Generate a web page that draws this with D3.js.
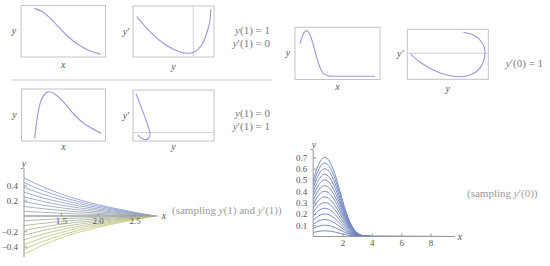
<!DOCTYPE html>
<html><head><meta charset="utf-8">
<script src="https://cdn.jsdelivr.net/npm/d3@7"></script>
<style>body{margin:0;background:#fff}svg{display:block}</style>
</head><body>
<script>
// ---------- DATA ----------
// Panel 1: y vs x  (y(1)=1, y'(1)=0)
const p1X = [1, 1.25, 1.5, 1.75, 2, 2.25, 2.5, 2.75, 3];
const p1Y = [1.0, 0.93, 0.78, 0.60, 0.42, 0.28, 0.17, 0.09, 0.04];
// Panel 2: phase y' vs y (normalised units)
const p2Y  = [0.046, 0.21, 0.374, 0.54, 0.663, 0.765, 0.848, 0.91, 0.951, 0.96];
const p2YP = [0.79, 0.496, 0.269, 0.124, 0.073, 0.104, 0.235, 0.465, 0.725, 0.935];
const p2RefY = 0.744;
// Panel 3: y vs x  (y(1)=0, y'(1)=1)
const p3X = [1.0, 1.10, 1.20, 1.35, 1.45, 1.61, 1.91, 2.21, 2.52, 3.02];
const p3Y = [0, 0.483, 0.738, 0.879, 0.898, 0.854, 0.675, 0.45, 0.277, 0.098];
// Panel 4: phase y' vs y (normalised units)
const p4Y  = [0.037, 0.086, 0.148, 0.189, 0.21, 0.198, 0.167, 0.123, 0.086, 0.062];
const p4YP = [0.929, 0.725, 0.467, 0.275, 0.148, 0.067, 0.029, 0.038, 0.077, 0.115];
const p4RefYP = 0.167;
// Panel 6: phase y' vs y  (y'(0)=1)
const p6Y  = [0.495, 0.589, 0.653, 0.691, 0.700, 0.684, 0.637, 0.558, 0.464, 0.338, 0.211, 0.101, 0.007, 0];
const p6YP = [1.0, 0.871, 0.633, 0.314, 0, -0.40, -0.795, -1.033, -1.114, -1.033, -0.795, -0.476, -0.081, 0];

// Bottom-left family (sampling y(1) and y'(1))
const leftX = [1, 1.25, 1.5, 1.75, 2, 2.25, 2.5, 2.77];
const leftCurves = [
  [0.5, 0.383, 0.288, 0.212, 0.149, 0.096, 0.048, 0],
  [0.4375, 0.335, 0.252, 0.186, 0.130, 0.084, 0.042, 0],
  [0.375, 0.287, 0.216, 0.159, 0.112, 0.072, 0.036, 0],
  [0.3125, 0.239, 0.18, 0.1325, 0.093, 0.060, 0.030, 0],
  [0.25, 0.192, 0.144, 0.106, 0.075, 0.048, 0.024, 0],
  [0.1875, 0.144, 0.108, 0.0795, 0.056, 0.036, 0.018, 0],
  [0.125, 0.096, 0.072, 0.053, 0.037, 0.024, 0.012, 0],
  [0.0625, 0.048, 0.036, 0.0265, 0.019, 0.012, 0.006, 0],
  [0, 0, 0, 0, 0, 0, 0, 0],
  [-0.0625, -0.048, -0.036, -0.0265, -0.019, -0.012, -0.006, 0],
  [-0.125, -0.096, -0.072, -0.053, -0.037, -0.024, -0.012, 0],
  [-0.1875, -0.144, -0.108, -0.0795, -0.056, -0.036, -0.018, 0],
  [-0.25, -0.192, -0.144, -0.106, -0.075, -0.048, -0.024, 0],
  [-0.3125, -0.239, -0.18, -0.1325, -0.093, -0.060, -0.030, 0],
  [-0.375, -0.287, -0.216, -0.159, -0.112, -0.072, -0.036, 0],
  [-0.4375, -0.335, -0.252, -0.186, -0.130, -0.084, -0.042, 0],
  [-0.5, -0.383, -0.288, -0.212, -0.149, -0.096, -0.048, 0]
];
const leftXTicks = [1.5, 2.0, 2.5];
const leftXTickLabels = ["1.5", "2.0", "2.5"];
const leftYTicks = [-0.4, -0.2, 0.2, 0.4];
const leftYTickLabels = ["\u22120.4", "\u22120.2", "0.2", "0.4"];

// Bottom-right family (sampling y'(0)); top curve also used in panel 5
const rightX = [0, 0.25, 0.5, 0.75, 1, 1.25, 1.5, 1.75, 2, 2.25, 2.5, 2.75, 3, 3.5, 4, 9.3];
const rightCurves = [
  [0.036,0.043,0.048,0.05,0.049,0.045,0.039,0.031,0.023,0.015,0.009,0.005,0.002,0,0,0],
  [0.071,0.086,0.096,0.10,0.098,0.09,0.078,0.062,0.046,0.031,0.019,0.01,0.005,0.001,0,0],
  [0.107,0.129,0.144,0.15,0.147,0.135,0.117,0.093,0.069,0.046,0.028,0.015,0.007,0.001,0,0],
  [0.143,0.171,0.191,0.20,0.196,0.18,0.156,0.124,0.091,0.061,0.037,0.02,0.009,0.001,0,0],
  [0.179,0.214,0.239,0.25,0.245,0.225,0.195,0.155,0.114,0.077,0.046,0.025,0.011,0.002,0,0],
  [0.214,0.257,0.287,0.30,0.294,0.27,0.234,0.186,0.137,0.092,0.056,0.03,0.014,0.002,0,0],
  [0.25,0.30,0.335,0.35,0.343,0.315,0.273,0.218,0.16,0.108,0.065,0.035,0.016,0.003,0,0],
  [0.286,0.343,0.383,0.40,0.391,0.36,0.311,0.249,0.183,0.123,0.074,0.04,0.018,0.003,0,0],
  [0.321,0.386,0.431,0.45,0.44,0.405,0.35,0.28,0.206,0.138,0.084,0.045,0.021,0.003,0.001,0],
  [0.357,0.429,0.479,0.50,0.489,0.45,0.389,0.311,0.229,0.154,0.093,0.05,0.023,0.004,0.001,0],
  [0.393,0.471,0.526,0.55,0.538,0.495,0.428,0.342,0.251,0.169,0.102,0.055,0.025,0.004,0.001,0],
  [0.429,0.514,0.574,0.60,0.587,0.54,0.467,0.373,0.274,0.184,0.111,0.06,0.027,0.004,0.001,0],
  [0.464,0.557,0.622,0.65,0.636,0.585,0.506,0.404,0.297,0.2,0.121,0.065,0.03,0.005,0.001,0],
  [0.50,0.60,0.67,0.70,0.685,0.63,0.545,0.435,0.32,0.215,0.13,0.07,0.032,0.005,0.001,0]
];
const rightXTicks = [2, 4, 6, 8];
const rightYTicks = [0.1, 0.2, 0.3, 0.4, 0.5, 0.6, 0.7];

// ---------- DRAW ----------
const W = 550, H = 266;
const svg = d3.select("body").append("svg").attr("width", W).attr("height", H);
const SERIF = "'Liberation Serif','DejaVu Serif',serif";
const miniColor = "#9898de";
const boxColor = "#c4c4c4";

function miniPanel(o) {
  const sx = d3.scaleLinear().domain(o.xDomain).range([o.box[0], o.box[1]]);
  const sy = d3.scaleLinear().domain(o.yDomain).range([o.box[3], o.box[2]]);
  const g = svg.append("g");
  g.append("rect").attr("x", o.box[0]).attr("y", o.box[2])
    .attr("width", o.box[1] - o.box[0]).attr("height", o.box[3] - o.box[2])
    .attr("fill", "none").attr("stroke", boxColor).attr("stroke-width", 1);
  if (o.refX !== undefined)
    g.append("line").attr("x1", sx(o.refX)).attr("x2", sx(o.refX))
      .attr("y1", o.box[2]).attr("y2", o.box[3]).attr("stroke", "#d4d4d4");
  if (o.refY !== undefined)
    g.append("line").attr("y1", sy(o.refY)).attr("y2", sy(o.refY))
      .attr("x1", o.box[0]).attr("x2", o.box[1]).attr("stroke", "#d4d4d4");
  const pts = o.xs.map((v, i) => [v, o.ys[i]]);
  g.append("path").datum(pts)
    .attr("d", d3.line().x(d => sx(d[0])).y(d => sy(d[1])).curve(d3.curveCatmullRom.alpha(0.5)))
    .attr("fill", "none").attr("stroke", miniColor).attr("stroke-width", 1.1);
  g.append("text").attr("x", o.box[0] - 7).attr("y", (o.box[2] + o.box[3]) / 2 + 3)
    .attr("text-anchor", "middle").attr("font-family", SERIF).attr("font-style", "italic")
    .attr("font-size", 10).attr("fill", "#555").text(o.yLabel);
  g.append("text").attr("x", (o.box[0] + o.box[1]) / 2).attr("y", o.box[3] + o.xLabelDy)
    .attr("text-anchor", "middle").attr("font-family", SERIF).attr("font-style", "italic")
    .attr("font-size", 10).attr("fill", "#555").text(o.xLabel);
}

miniPanel({box: [21, 105.5, 5.5, 57], xDomain: [0.6, 3.15], yDomain: [-0.02, 1.06],
  xs: p1X, ys: p1Y, yLabel: "y", xLabel: "x", xLabelDy: 11});
miniPanel({box: [133, 214, 6, 57], xDomain: [0, 1], yDomain: [0, 1],
  xs: p2Y, ys: p2YP, refX: p2RefY, yLabel: "y\u2032", xLabel: "y", xLabelDy: 13});
miniPanel({box: [21.5, 105.5, 89, 141], xDomain: [0.6, 3.15], yDomain: [-0.05, 0.95],
  xs: p3X, ys: p3Y, yLabel: "y", xLabel: "x", xLabelDy: 9});
miniPanel({box: [133, 214, 90, 141], xDomain: [0, 1], yDomain: [0, 1],
  xs: p4Y, ys: p4YP, refY: p4RefYP, yLabel: "y\u2032", xLabel: "y", xLabelDy: 9});
miniPanel({box: [295, 380, 27.3, 79.5], xDomain: [-0.62, 9.92], yDomain: [-0.05, 0.752],
  xs: rightX, ys: rightCurves[rightCurves.length - 1], yLabel: "y", xLabel: "x", xLabelDy: 10});
miniPanel({box: [407.3, 488.3, 29.3, 79.3], xDomain: [-0.035, 0.731], yDomain: [-1.238, 1.143],
  xs: p6Y, ys: p6YP, refY: 0, yLabel: "y\u2032", xLabel: "y", xLabelDy: 13});

// separator line
svg.append("line").attr("x1", 12).attr("x2", 272).attr("y1", 80).attr("y2", 80)
  .attr("stroke", "#c8c8c8").attr("stroke-width", 1);

function condLabel(x, y, parts, anchor) {
  const t = svg.append("text").attr("x", x).attr("y", y).attr("text-anchor", anchor || "end")
    .attr("font-family", SERIF).attr("font-size", 11).attr("fill", "#7a7a7a");
  parts.forEach(p => t.append("tspan").attr("font-style", p[1] ? "italic" : "normal").text(p[0]));
}
condLabel(270, 34, [["y", 1], ["(1) = 1", 0]]);
condLabel(270, 47, [["y", 1], ["\u2032(1) = 0", 0]]);
condLabel(270, 117, [["y", 1], ["(1) = 0", 0]]);
condLabel(270, 130, [["y", 1], ["\u2032(1) = 1", 0]]);
condLabel(543, 67, [["y", 1], ["\u2032(0) = 1", 0]]);

// ---------- bottom-left chart ----------
{
  const sx = d3.scaleLinear().domain([1, 2.77]).range([24, 154.5]);
  const sy = d3.scaleLinear().domain([-0.5, 0.5]).range([254.25, 177.75]);
  const col = d3.scaleLinear().domain([0, 8, 16]).range(["#8c9bd2", "#a0aaa6", "#c9cc7c"]).interpolate(d3.interpolateRgb);
  const g = svg.append("g");
  const line = d3.line().x((d, i) => sx(leftX[i])).y(d => sy(d)).curve(d3.curveMonotoneX);
  g.selectAll("path.c").data(leftCurves).join("path").attr("class", "c")
    .attr("d", d => line(d)).attr("fill", "none")
    .attr("stroke", (d, i) => col(i)).attr("stroke-width", 0.85);
  const ax = g.append("g").attr("transform", `translate(0,${sy(0)})`)
    .call(d3.axisBottom(sx).tickValues(leftXTicks).tickFormat((d, i) => leftXTickLabels[i]).tickSize(3).tickSizeOuter(0));
  ax.select(".domain").attr("d", `M${sx(1)},0H158`);
  const ay = g.append("g").attr("transform", `translate(${sx(1)},0)`)
    .call(d3.axisLeft(sy).tickValues(leftYTicks).tickFormat((d, i) => leftYTickLabels[i]).tickSize(3).tickSizeOuter(0));
  ay.select(".domain").attr("d", `M0,168V257`);
  [ax, ay].forEach(a => {
    a.selectAll("path,line").attr("stroke", "#999");
    a.selectAll("text").attr("font-family", SERIF).attr("font-size", 9).attr("fill", "#555");
  });
  ax.selectAll("line").attr("y2", -3);
  ax.selectAll("text").attr("y", 2);
  ay.selectAll("line").attr("x2", 3);
  g.append("text").attr("x", 24).attr("y", 167).attr("text-anchor", "middle")
    .attr("font-family", SERIF).attr("font-style", "italic").attr("font-size", 10).attr("fill", "#555").text("y");
  g.append("text").attr("x", 164).attr("y", 219).attr("text-anchor", "middle")
    .attr("font-family", SERIF).attr("font-style", "italic").attr("font-size", 10).attr("fill", "#555").text("x");
  const t = g.append("text").attr("x", 172).attr("y", 214).attr("font-family", SERIF)
    .attr("font-size", 11).attr("fill", "#9a9a9a");
  [["(sampling ", 0], ["y", 1], ["(1) and ", 0], ["y", 1], ["\u2032(1))", 0]].forEach(p =>
    t.append("tspan").attr("font-style", p[1] ? "italic" : "normal").text(p[0]));
}

// ---------- bottom-right chart ----------
{
  const sx = d3.scaleLinear().domain([0, 9.3]).range([313.2, 449.6]);
  const sy = d3.scaleLinear().domain([0, 0.7]).range([236.5, 157.4]);
  const g = svg.append("g");
  const line = d3.line().x((d, i) => sx(rightX[i])).y(d => sy(d)).curve(d3.curveMonotoneX);
  g.selectAll("path.c").data(rightCurves).join("path").attr("class", "c")
    .attr("d", d => line(d)).attr("fill", "none")
    .attr("stroke", "#6a7fba").attr("stroke-width", 0.9);
  const ax = g.append("g").attr("transform", `translate(0,${sy(0)})`)
    .call(d3.axisBottom(sx).tickValues(rightXTicks).tickFormat(d3.format("d")).tickSize(3).tickSizeOuter(0));
  ax.select(".domain").attr("d", `M${sx(0)},0H455`);
  const ay = g.append("g").attr("transform", `translate(${sx(0)},0)`)
    .call(d3.axisLeft(sy).tickValues(rightYTicks).tickFormat(d3.format(".1f")).tickSize(3).tickSizeOuter(0));
  ay.select(".domain").attr("d", `M0,150V${sy(0)}`);
  [ax, ay].forEach(a => {
    a.selectAll("path,line").attr("stroke", "#999");
    a.selectAll("text").attr("font-family", SERIF).attr("font-size", 9).attr("fill", "#555");
  });
  ax.selectAll("line").attr("y2", -3);
  ax.selectAll("text").attr("y", 3);
  ay.selectAll("line").attr("x2", 3);
  g.append("text").attr("x", 314).attr("y", 148).attr("text-anchor", "middle")
    .attr("font-family", SERIF).attr("font-style", "italic").attr("font-size", 10).attr("fill", "#555").text("y");
  g.append("text").attr("x", 460).attr("y", 240).attr("text-anchor", "middle")
    .attr("font-family", SERIF).attr("font-style", "italic").attr("font-size", 10).attr("fill", "#555").text("x");
  const t = g.append("text").attr("x", 467).attr("y", 197).attr("font-family", SERIF)
    .attr("font-size", 11).attr("fill", "#9a9a9a");
  [["(sampling ", 0], ["y", 1], ["\u2032(0))", 0]].forEach(p =>
    t.append("tspan").attr("font-style", p[1] ? "italic" : "normal").text(p[0]));
}
</script>
</body></html>
